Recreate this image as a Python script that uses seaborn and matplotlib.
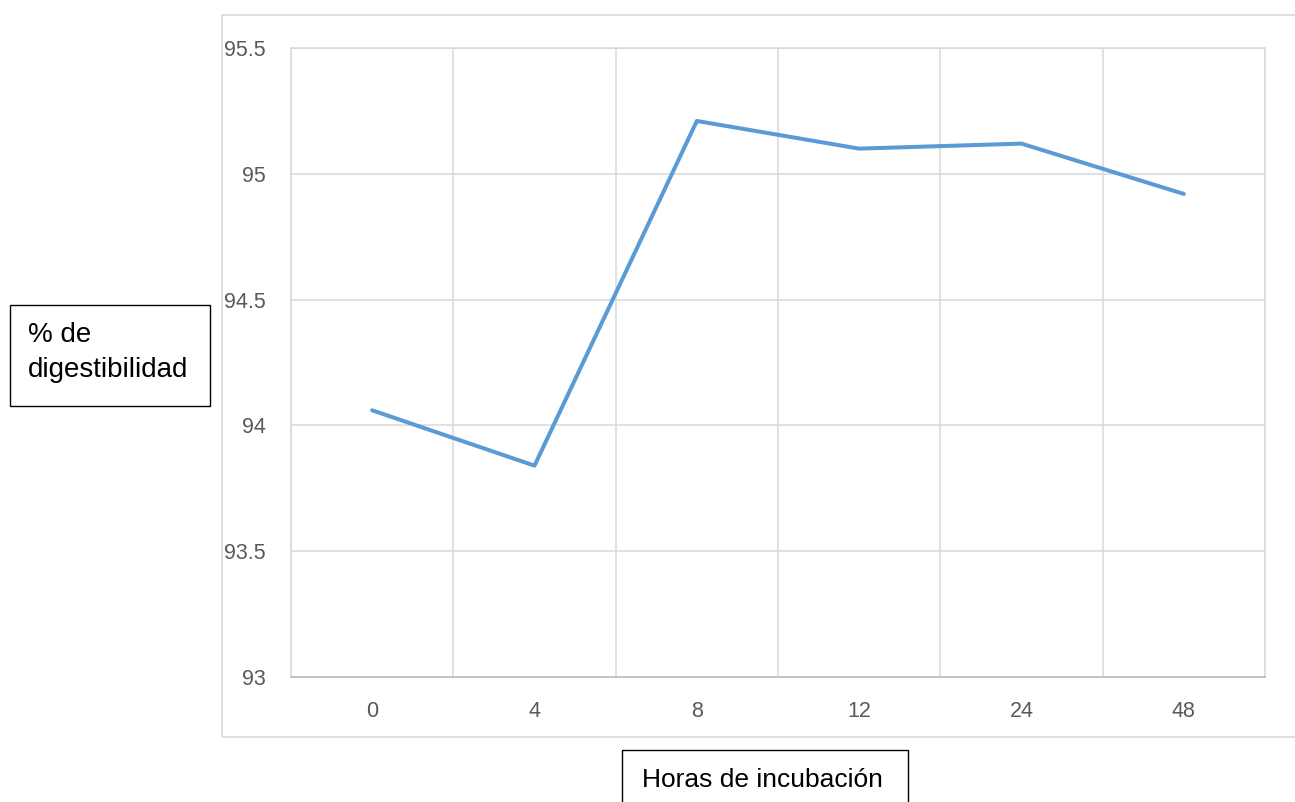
import numpy as np
import pandas as pd
import matplotlib
matplotlib.use("Agg")
import matplotlib.pyplot as plt
from matplotlib.patches import Rectangle
import seaborn as sns

# Data
horas = ["0", "4", "8", "12", "24", "48"]
digestibilidad = [94.06, 93.84, 95.21, 95.10, 95.12, 94.92]
y_ticks = [93, 93.5, 94, 94.5, 95, 95.5]
y_tick_labels = ["93", "93.5", "94", "94.5", "95", "95.5"]

df = pd.DataFrame({"horas": horas, "dig": digestibilidad})

sns.set_style("white")
plt.rcParams["font.family"] = ["Liberation Sans", "DejaVu Sans"]

fig = plt.figure(figsize=(12.95, 8.02), dpi=100)
ax = fig.add_axes([291 / 1295, 1 - 677 / 802, (1265 - 291) / 1295, (677 - 48) / 802])

sns.lineplot(data=df, x="horas", y="dig", ax=ax, color="#5B9BD5", linewidth=2.9,
             sort=False)
ax.lines[0].set_solid_capstyle("round")

ax.set_xlim(-0.5, len(horas) - 0.5)
ax.set_ylim(93, 95.5)
ax.set_xticks(range(len(horas)))
ax.set_xticklabels(horas)
ax.set_xticks(np.arange(-0.5, len(horas)), minor=True)
ax.set_yticks(y_ticks)
ax.set_yticklabels(y_tick_labels)

ax.grid(False)
ax.grid(axis="x", which="minor", color="#D9D9D9", linewidth=1.1)
ax.grid(axis="y", which="major", color="#D9D9D9", linewidth=1.1)
ax.set_axisbelow(True)

ax.tick_params(axis="both", which="both", length=0, labelsize=15.5, labelcolor="#595959")
ax.tick_params(axis="x", pad=17)
ax.tick_params(axis="y", pad=18)
ax.set_xlabel("")
ax.set_ylabel("")

for side in ["top", "right", "left"]:
    ax.spines[side].set_color("#D9D9D9")
    ax.spines[side].set_linewidth(1.1)
ax.spines["bottom"].set_color("#BFBFBF")
ax.spines["bottom"].set_linewidth(1.3)

# Chart area border
fig.patches.append(Rectangle((222 / 1295, 1 - 737 / 802), 1.0, (737 - 15) / 802,
                             transform=fig.transFigure, fill=False,
                             edgecolor="#D9D9D9", linewidth=1.2, clip_on=False))

# Y axis title box
fig.patches.append(Rectangle((10 / 1295, 1 - 406 / 802), 200 / 1295, 101 / 802,
                             transform=fig.transFigure, fill=False,
                             edgecolor="black", linewidth=1.0))
fig.text(28 / 1295, 1 - 353 / 802, "% de\ndigestibilidad", fontsize=20,
         color="black", ha="left", va="center", linespacing=1.45)

# X axis title box
fig.patches.append(Rectangle((622 / 1295, -0.05), 286 / 1295, 0.05 + (802 - 750) / 802,
                             transform=fig.transFigure, fill=False,
                             edgecolor="black", linewidth=1.0, clip_on=False))
fig.text(762 / 1295, 1 - 780 / 802, "Horas de incubación", fontsize=19,
         color="black", ha="center", va="center")

fig.savefig("out.png", dpi=100)
